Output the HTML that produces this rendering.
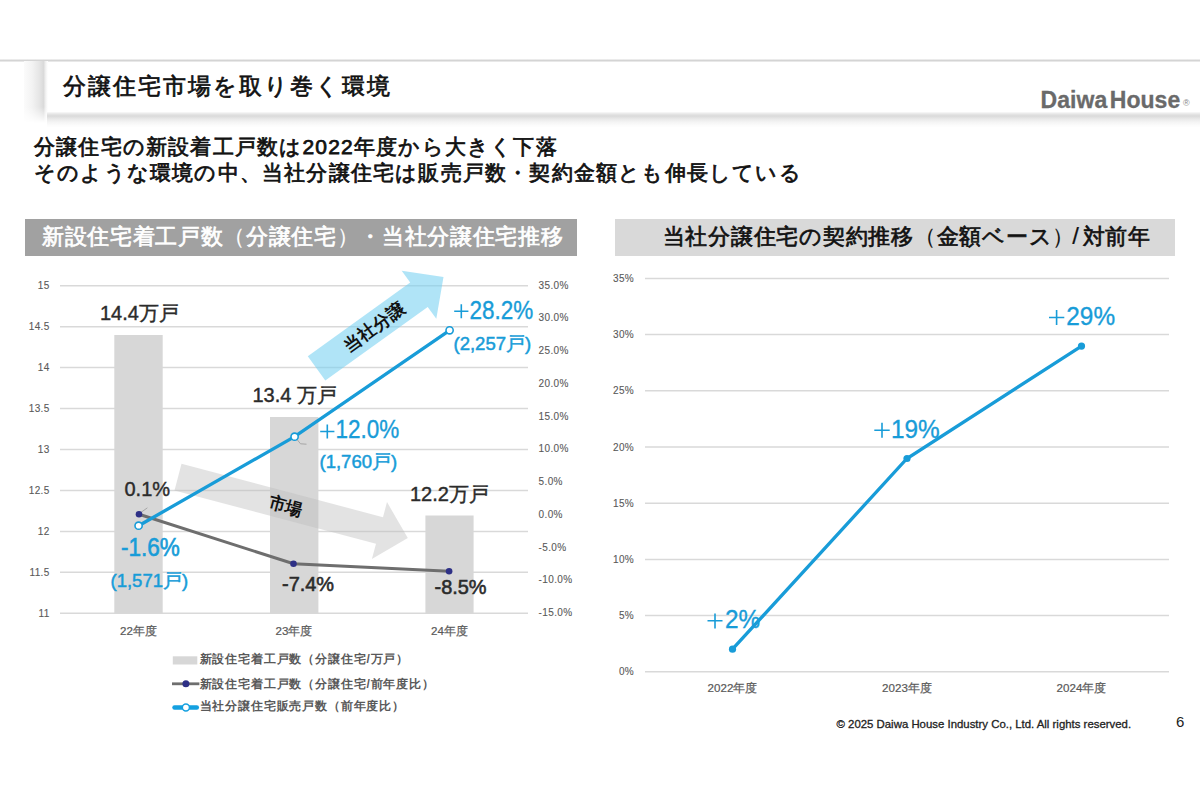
<!DOCTYPE html>
<html><head><meta charset="utf-8">
<style>
html,body{margin:0;padding:0;}
body{width:1200px;height:798px;background:#fff;position:relative;overflow:hidden;font-family:"Liberation Sans",sans-serif;}
.a{position:absolute;white-space:nowrap;}
svg{position:absolute;left:0;top:0;}
svg text{font-family:"Liberation Sans",sans-serif;}
</style></head><body>
<!-- top rule -->
<div class="a" style="left:0;top:59px;width:1200px;height:3px;background:linear-gradient(to bottom,#f6f6f6 0,#d4d4d4 1.5px,#f2f2f2 3px)"></div>
<!-- header box with shadow -->
<div class="a" style="left:24px;top:61px;width:24px;height:62px;background:linear-gradient(to right,#fbfbfb 0,#f3f3f3 8px,#e6e6e6 15px,#dadada 19.5px,#f4f4f4 22px,#fff 24px);-webkit-mask-image:linear-gradient(to bottom,#000 0,#000 46px,transparent 62px)"></div>
<div class="a" style="left:47px;top:112px;width:1153px;height:15px;background:linear-gradient(to bottom,#fafafa 0,#e6e6e6 2px,#dadada 4px,#e9e9e9 7px,#f4f4f4 10px,#fdfdfd 14px)"></div>
<div class="a" style="left:63px;top:71px;font-size:23px;letter-spacing:2.05px;color:#111;line-height:30px;-webkit-text-stroke:0.7px #111">分譲住宅市場を取り巻く環境</div>
<div class="a" style="left:1040.5px;top:86.5px;font-size:23px;font-weight:bold;color:#6a6a6a;letter-spacing:0.05px;line-height:26px;-webkit-text-stroke:0.3px #6a6a6a">Daiwa<span style="display:inline-block;width:2.5px"></span>House</div>
<div class="a" style="left:1183px;top:98px;font-size:9px;color:#888">&#174;</div>

<!-- subtitle -->
<div class="a" style="left:34px;top:133.6px;font-size:21px;letter-spacing:1.2px;font-weight:normal;-webkit-text-stroke:0.75px #111;color:#111;line-height:26.3px">分譲住宅の新設着工戸数は2022年度から大きく下落<br>そのような環境の中、当社分譲住宅は販売戸数・契約金額とも伸長している</div>

<!-- heading bars -->
<div class="a" style="left:25px;top:219px;width:552px;height:37px;background:#a1a1a1"></div>
<div class="a" style="left:42px;top:222px;font-size:22px;letter-spacing:0.66px;font-weight:normal;-webkit-text-stroke:0.7px #fff;color:#fff;line-height:30px">新設住宅着工戸数<span style="-webkit-text-stroke-width:0.15px">（</span>分譲住宅<span style="-webkit-text-stroke-width:0.15px">）</span>・当社分譲住宅推移</div>
<div class="a" style="left:615px;top:219px;width:560px;height:37px;background:#d9d9d9"></div>
<div class="a" style="left:662.5px;top:221px;font-size:22px;letter-spacing:0.76px;font-weight:normal;-webkit-text-stroke:0.7px #111;color:#111;line-height:30px">当社分譲住宅の契約推移<span style="-webkit-text-stroke-width:0.15px">（</span>金額ベース<span style="-webkit-text-stroke-width:0.15px">）</span><span style="font-weight:normal;-webkit-text-stroke:0.2px #111;font-size:24px;margin:0 3px 0 -3px">/</span>対前年</div>

<svg width="1200" height="798" viewBox="0 0 1200 798">
 <!-- LEFT CHART gridlines -->
 <g stroke="#d9d9d9" stroke-width="1.5">
  <line x1="60" y1="285.75" x2="528" y2="285.75"/>
  <line x1="60" y1="326.7" x2="528" y2="326.7"/>
  <line x1="60" y1="367.6" x2="528" y2="367.6"/>
  <line x1="60" y1="408.6" x2="528" y2="408.6"/>
  <line x1="60" y1="449.5" x2="528" y2="449.5"/>
  <line x1="60" y1="490.5" x2="528" y2="490.5"/>
  <line x1="60" y1="531.4" x2="528" y2="531.4"/>
  <line x1="60" y1="572.3" x2="528" y2="572.3"/>
  <line x1="60" y1="613.25" x2="528" y2="613.25"/>
 </g>
 <!-- bars -->
 <g fill="#d7d7d7">
  <rect x="114.3" y="335" width="48.4" height="278.25"/>
  <rect x="270" y="417" width="48.4" height="196.25"/>
  <rect x="425.4" y="515.5" width="48.2" height="97.75"/>
 </g>
 <!-- left axis labels -->
 <g font-size="10" fill="#595959" text-anchor="end" letter-spacing="0.3" stroke="#595959" stroke-width="0.1">
  <text x="49.5" y="289">15</text>
  <text x="49.5" y="330">14.5</text>
  <text x="49.5" y="371">14</text>
  <text x="49.5" y="412">13.5</text>
  <text x="49.5" y="453">13</text>
  <text x="49.5" y="494">12.5</text>
  <text x="49.5" y="535">12</text>
  <text x="49.5" y="576">11.5</text>
  <text x="49.5" y="617">11</text>
 </g>
 <!-- right axis labels -->
 <g font-size="10" fill="#595959" letter-spacing="0.4" stroke="#595959" stroke-width="0.1">
  <text x="538.5" y="288.6">35.0%</text>
  <text x="538.5" y="321.4">30.0%</text>
  <text x="538.5" y="354.1">25.0%</text>
  <text x="538.5" y="386.9">20.0%</text>
  <text x="538.5" y="419.6">15.0%</text>
  <text x="538.5" y="452.4">10.0%</text>
  <text x="538.5" y="485.1">5.0%</text>
  <text x="538.5" y="517.9">0.0%</text>
  <text x="538.5" y="550.6">-5.0%</text>
  <text x="538.5" y="583.4">-10.0%</text>
  <text x="538.5" y="616.1">-15.0%</text>
 </g>
 <!-- category labels -->
 <g font-size="11.6" fill="#595959" text-anchor="middle" stroke="#595959" stroke-width="0.2">
  <text x="138.5" y="635">22年度</text>
  <text x="294" y="635">23年度</text>
  <text x="449.5" y="635">24年度</text>
 </g>
 <!-- arrows -->
 <polygon points="325.3,380.6 427.7,306.9 436.3,318.8 443.5,277.1 401.7,270.7 410.2,282.6 307.8,356.3" fill="rgba(119,208,241,0.58)"/>
 <polygon points="174.5,490.4 376.0,543.8 371.9,558.9 407.8,538.0 387.0,502.1 383.0,517.2 181.5,463.8" fill="rgba(188,188,188,0.42)"/>
 <text transform="translate(374.3,327) rotate(-36)" font-size="17.5" font-weight="bold" fill="#111" text-anchor="middle" dominant-baseline="central">当社分譲</text>
 <text transform="translate(285.8,506.3) rotate(15)" font-size="17" font-weight="bold" fill="#111" text-anchor="middle" dominant-baseline="central">市場</text>
 <!-- leader lines -->
 <polyline points="140.6,512.7 147.4,507.8" fill="none" stroke="#a6a6a6" stroke-width="1"/>
 <polyline points="295.5,437.5 300.5,443.8 306.5,444.2" fill="none" stroke="#a6a6a6" stroke-width="1"/>
 <!-- gray line -->
 <polyline points="139,514.3 293.5,563.8 449.1,571.2" fill="none" stroke="#6e6e6e" stroke-width="3"/>
 <g fill="#2e3086">
  <circle cx="139" cy="514.3" r="3.3"/>
  <circle cx="293.5" cy="563.8" r="3.3"/>
  <circle cx="449.1" cy="571.2" r="3.3"/>
 </g>
 <!-- blue line -->
 <polyline points="138.6,525.7 294.6,436.7 449.6,330.3" fill="none" stroke="#189cd8" stroke-width="3.3"/>
 <g fill="#fff" stroke="#189cd8" stroke-width="1.6">
  <circle cx="138.6" cy="525.7" r="3.6"/>
  <circle cx="294.6" cy="436.7" r="3.6"/>
  <circle cx="449.6" cy="330.3" r="3.6"/>
 </g>
 <!-- data labels -->
 <g font-size="20" fill="#2b2b2b" stroke="#2b2b2b" stroke-width="0.4">
  <text x="100" y="319.5">14.4万戸</text>
  <text x="252.5" y="402.3">13.4 万戸</text>
  <text x="410" y="500.5">12.2万戸</text>
  <text x="124.5" y="495.7">0.1%</text>
 </g>
 <g font-size="21" fill="#2b2b2b" stroke="#2b2b2b" stroke-width="0.6">
  <text transform="translate(282,591) scale(0.95,1)">-7.4%</text>
  <text transform="translate(434.5,593.5) scale(0.95,1)">-8.5%</text>
 </g>
 <g font-size="24.5" fill="#189cd8" stroke="#189cd8" stroke-width="0.35">
  <text transform="translate(469.5,318.75) scale(0.9,1)" font-size="25">28.2%</text>
  <text transform="translate(335.5,438.25) scale(0.9,1)" font-size="25">12.0%</text>
  <text transform="translate(121,556.3) scale(0.92,1.04)" stroke-width="0.6">-1.6%</text>
 </g>
 <g font-size="18.5" fill="#189cd8" stroke="#189cd8" stroke-width="0.5">
  <text x="453.5" y="349.5">(2,257戸)</text>
  <text x="319.5" y="467.5">(1,760戸)</text>
  <text x="110.5" y="587.2">(1,571戸)</text>
 </g>
 <!-- legend -->
 <rect x="172.8" y="656.3" width="24.5" height="8.2" fill="#d7d7d7"/>
 <line x1="172" y1="683.8" x2="199.4" y2="683.8" stroke="#6e6e6e" stroke-width="2.8"/>
 <circle cx="185.9" cy="683.8" r="3.5" fill="#2e3086"/>
 <line x1="174.5" y1="707.5" x2="196.8" y2="707.5" stroke="#14a0e0" stroke-width="4.5" stroke-linecap="round"/>
 <circle cx="185.9" cy="707.5" r="3.5" fill="#fff" stroke="#14a0e0" stroke-width="1.4"/>
 <g font-size="12" font-weight="bold" fill="#595959" letter-spacing="0.84">
  <text x="199.5" y="663.3">新設住宅着工戸数（分譲住宅/万戸）</text>
  <text x="199.5" y="687.8">新設住宅着工戸数（分譲住宅/前年度比）</text>
  <text x="199.5" y="710.3">当社分譲住宅販売戸数（前年度比）</text>
 </g>

 <!-- RIGHT CHART -->
 <g stroke="#d9d9d9" stroke-width="1.5">
  <line x1="645" y1="278.45" x2="1169" y2="278.45"/>
  <line x1="645" y1="334.6" x2="1169" y2="334.6"/>
  <line x1="645" y1="390.8" x2="1169" y2="390.8"/>
  <line x1="645" y1="447" x2="1169" y2="447"/>
  <line x1="645" y1="503.2" x2="1169" y2="503.2"/>
  <line x1="645" y1="559.4" x2="1169" y2="559.4"/>
  <line x1="645" y1="615.5" x2="1169" y2="615.5"/>
  <line x1="645" y1="671.7" x2="1169" y2="671.7"/>
 </g>
 <g font-size="10" fill="#595959" text-anchor="end" letter-spacing="0.3" stroke="#595959" stroke-width="0.1">
  <text x="634" y="282">35%</text>
  <text x="634" y="338.1">30%</text>
  <text x="634" y="394.3">25%</text>
  <text x="634" y="450.5">20%</text>
  <text x="634" y="506.7">15%</text>
  <text x="634" y="562.9">10%</text>
  <text x="634" y="619">5%</text>
  <text x="634" y="675.2">0%</text>
 </g>
 <g font-size="11.6" fill="#595959" text-anchor="middle" stroke="#595959" stroke-width="0.2">
  <text x="732.5" y="692">2022年度</text>
  <text x="907" y="692">2023年度</text>
  <text x="1081.5" y="692">2024年度</text>
 </g>
 <polyline points="732.5,649.2 907,458.5 1081.5,346.1" fill="none" stroke="#189cd8" stroke-width="3.3"/>
 <g fill="#189cd8">
  <circle cx="732.5" cy="649.2" r="3.6"/>
  <circle cx="907" cy="458.5" r="3.6"/>
  <circle cx="1081.5" cy="346.1" r="3.6"/>
 </g>
 <g font-size="26" fill="#189cd8" stroke="#189cd8" stroke-width="0.35">
  <text transform="translate(725,628.3) scale(0.92,1)" font-size="26.5">2%</text>
  <text transform="translate(891,437.7) scale(0.92,1)" font-size="26.5">19%</text>
  <text transform="translate(1066.3,325) scale(0.92,1)" font-size="26.5">29%</text>
 </g>
 <!-- plus signs -->
 <g stroke="#189cd8" stroke-width="1.6" fill="none">
  <path d="M454.2,311.3 H468.4 M461.3,304.3 V318.3"/>
  <path d="M320.2,431.5 H334.4 M327.3,424.5 V438.5"/>
  <path d="M707.5,620.8 H722.5 M715,613.6 V628.6"/>
  <path d="M874.3,430.2 H889.7 M882,422.7 V437.7"/>
  <path d="M1049,317.5 H1064.3 M1056.6,310 V325"/>
 </g>
 <!-- footer -->
 <text x="836.5" y="728.3" font-size="11.4" fill="#222" stroke="#222" stroke-width="0.3">© 2025 Daiwa House Industry Co., Ltd. All rights reserved.</text>
 <text x="1176" y="726.7" font-size="15" fill="#222">6</text>
</svg>
</body></html>
